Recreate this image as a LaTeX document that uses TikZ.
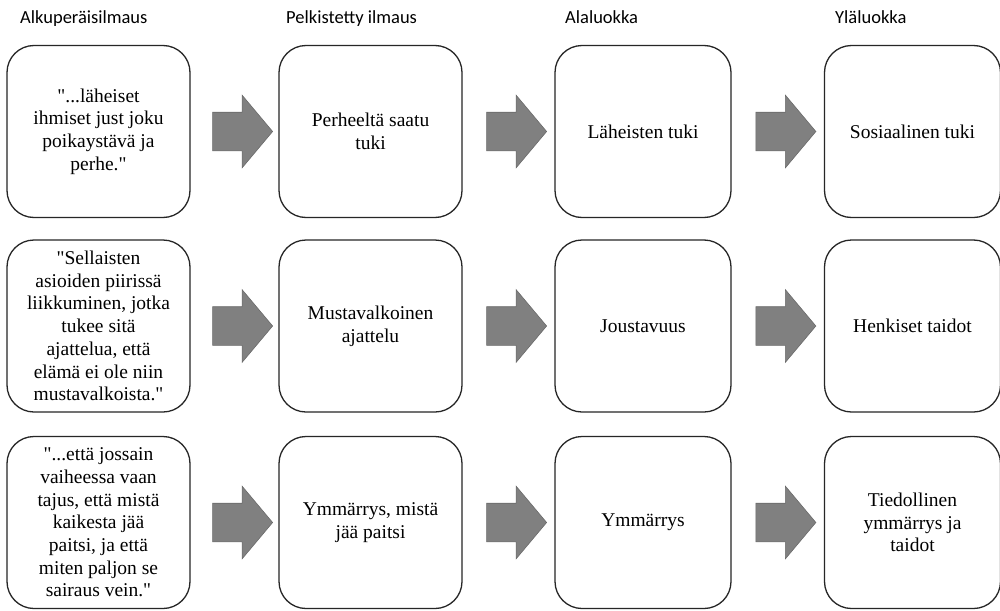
\documentclass[tikz,border=0pt]{standalone}
\usepackage{fontspec}
\setmainfont{Liberation Serif}[Ligatures=TeXOff]
\newfontfamily\headfont{Carlito}
\usetikzlibrary{shapes.arrows}
\usetikzlibrary{calc}

\definecolor{boxline}{HTML}{262626}
\definecolor{arrowfill}{HTML}{808080}
\definecolor{arrowline}{HTML}{6A6A6A}

\tikzset{
    box/.style={draw=boxline, line width=1.3pt, rounded corners=27pt,
        align=center, inner sep=0pt, minimum height=172pt,
        font=\fontsize{19.5}{22.7}\selectfont},
    wide/.style={box, minimum width=183pt},
    narrow/.style={box, minimum width=176pt},
    head/.style={anchor=base west, inner sep=0pt,
        font=\headfont\fontsize{18.5}{22}\selectfont},
    blockarrow/.style={single arrow, draw=arrowline, fill=arrowfill,
        line width=0.6pt, minimum height=60pt, inner xsep=0pt,
        inner ysep=19pt, text height=0pt, text depth=0pt,
        single arrow head extend=17pt, single arrow tip angle=100},
}

\begin{document}
\begin{tikzpicture}[x=1pt, y=-1pt]

    \path[use as bounding box, fill=white] (0,0) rectangle (1000,610);

    % Headers

    \node[head] (halku) at (20,24)  {Alkuperäisilmaus}; %
    \node[head] (hpelk) at (286,24) {Pelkistetty ilmaus}; %
    \node[head] (hala)  at (565,24) {Alaluokka}; %
    \node[head] (hyla)  at (835,24) {Yläluokka}; %

    % Row 1

    \node[wide]   (alku1) at (98.5,131.5)  {"...läheiset\\ihmiset just joku\\poikaystävä ja\\perhe."}; %
    \node[wide]   (pelk1) at (370.5,131.5) {Perheeltä saatu\\tuki}; %
    \node[narrow] (ala1)  at (643,131.5)   {Läheisten tuki}; %
    \node[narrow] (yla1)  at (912.5,131.5) {Sosiaalinen tuki}; %

    % Row 2

    \node[wide]   (alku2) at (98.5,326)  {"Sellaisten\\asioiden piirissä\\liikkuminen, jotka\\tukee sitä\\ajattelua, että\\elämä ei ole niin\\mustavalkoista."}; %
    \node[wide]   (pelk2) at (370.5,326) {Mustavalkoinen\\ajattelu}; %
    \node[narrow] (ala2)  at (643,326)   {Joustavuus}; %
    \node[narrow] (yla2)  at (912.5,326) {Henkiset taidot}; %

    % Row 3

    \node[wide]   (alku3) at (98.5,522.5)  {"...että jossain\\vaiheessa vaan\\tajus, että mistä\\kaikesta jää\\paitsi, ja että\\miten paljon se\\sairaus vein."}; %
    \node[wide]   (pelk3) at (370.5,522.5) {Ymmärrys, mistä\\jää paitsi}; %
    \node[narrow] (ala3)  at (643,522.5)   {Ymmärrys}; %
    \node[narrow] (yla3)  at (912.5,522.5) {Tiedollinen\\ymmärrys ja\\taidot}; %

    % Arrows

    \foreach \r in {1,2,3} {
        \node[blockarrow] (nuoli\r a) at ($(alku\r.east)!0.5!(pelk\r.west)$) {}; %
        \node[blockarrow] (nuoli\r b) at ($(pelk\r.east)!0.5!(ala\r.west)$) {}; %
        \node[blockarrow] (nuoli\r c) at ($(ala\r.east)!0.5!(yla\r.west)$) {}; %
    }

\end{tikzpicture}
\end{document}
